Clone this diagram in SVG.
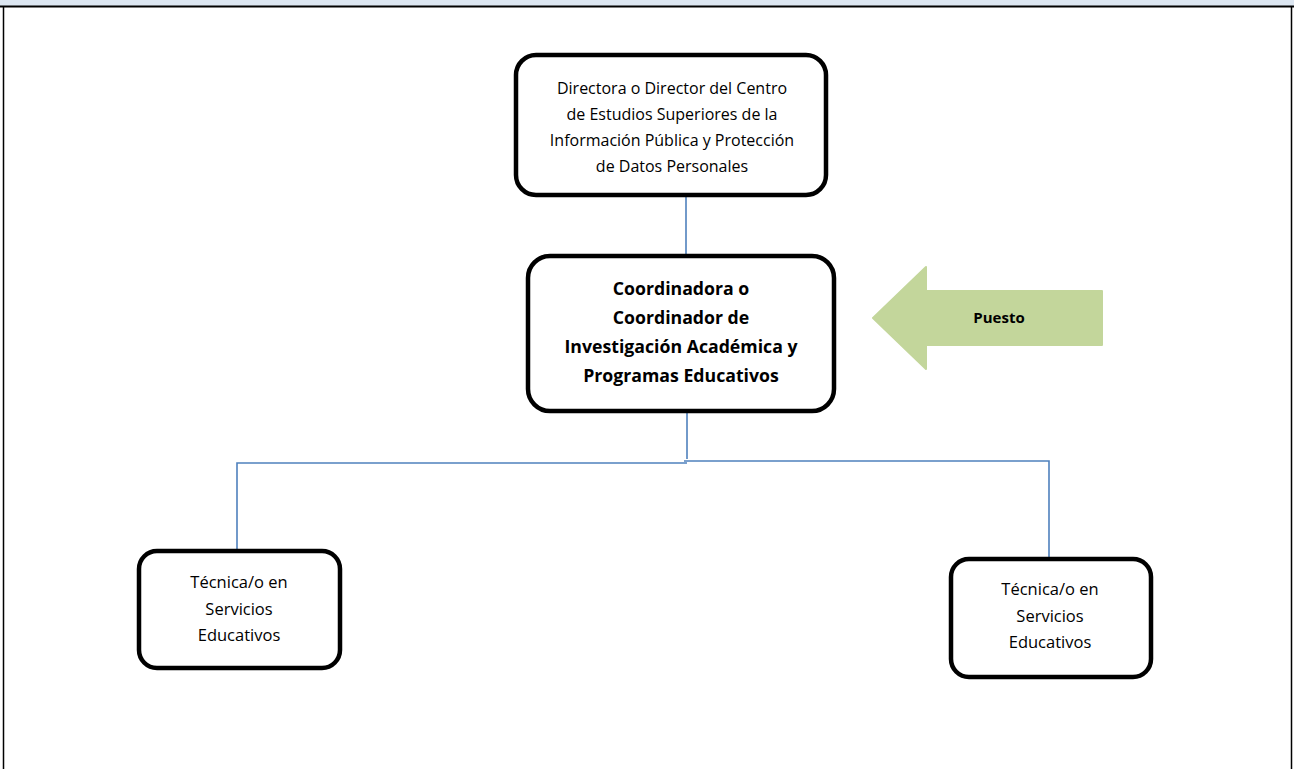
<svg xmlns="http://www.w3.org/2000/svg" width="1294" height="769" viewBox="0 0 1294 769">
<style>
.box{fill:#fff;stroke:#000;stroke-width:4.5}
.t{font-family:"Open Sans","Liberation Sans",sans-serif;font-size:16px;fill:#000;text-anchor:middle}
.b{font-family:"Open Sans","Liberation Sans",sans-serif;font-size:17.7px;font-weight:bold;fill:#000;text-anchor:middle}
.c{fill:none;stroke:#4f81bd;stroke-width:1.6}
</style>
<rect x="0" y="0" width="1294" height="769" fill="#fff"/>
<rect x="0" y="0" width="1294" height="6" fill="#dce6f1"/>
<line x1="0" y1="6.5" x2="1294" y2="6.5" stroke="#000" stroke-width="2"/>
<line x1="3.5" y1="6" x2="3.5" y2="769" stroke="#000" stroke-width="1.5"/>
<line x1="1291.5" y1="6" x2="1291.5" y2="769" stroke="#000" stroke-width="1.5"/>
<g id="connectors">
<line class="c" x1="686" y1="195" x2="686" y2="256"/>
<line class="c" x1="687" y1="411" x2="687" y2="459"/>
<polyline class="c" points="687,463 237,463 237,550"/>
<polyline class="c" points="684,461 1049,461 1049,558"/>
</g>
<g id="director">
<rect class="box" x="516" y="55" width="310" height="140" rx="20"/>
<text class="t" x="672" y="94">Directora o Director del Centro</text>
<text class="t" x="672" y="120">de Estudios Superiores de la</text>
<text class="t" x="672" y="146">Información Pública y Protección</text>
<text class="t" x="672" y="172">de Datos Personales</text>
</g>
<g id="coordinador">
<rect class="box" x="528" y="256" width="306" height="155" rx="22"/>
<text class="b" x="681" y="295">Coordinadora o</text>
<text class="b" x="681" y="324">Coordinador de</text>
<text class="b" x="681" y="353">Investigación Académica y</text>
<text class="b" x="681" y="382">Programas Educativos</text>
</g>
<g id="puesto">
<path d="M873,318 L926,267 L926,291 L1102,291 L1102,345 L926,345 L926,369 Z" fill="#c3d69b" stroke="#c3d69b" stroke-width="2" stroke-linejoin="round"/>
<text class="b" x="999" y="323" style="font-size:15px">Puesto</text>
</g>
<g id="tecnico1">
<rect class="box" x="139" y="551" width="201" height="117" rx="18"/>
<text class="t" x="239" y="588" style="font-size:16.5px">Técnica/o en</text>
<text class="t" x="239" y="615" style="font-size:16.5px">Servicios</text>
<text class="t" x="239" y="641" style="font-size:16.5px">Educativos</text>
</g>
<g id="tecnico2">
<rect class="box" x="951" y="559" width="200" height="118" rx="18"/>
<text class="t" x="1050" y="595" style="font-size:16.5px">Técnica/o en</text>
<text class="t" x="1050" y="622" style="font-size:16.5px">Servicios</text>
<text class="t" x="1050" y="648" style="font-size:16.5px">Educativos</text>
</g>
</svg>
